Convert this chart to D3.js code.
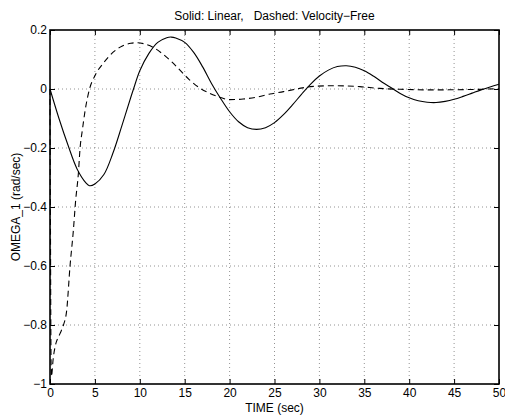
<!DOCTYPE html>
<html>
<head>
<meta charset="utf-8">
<script src="https://cdn.jsdelivr.net/npm/d3@7"></script>
<style>
  body { margin: 0; background: #fff; }
  text { font-family: "Liberation Sans", Arial, sans-serif; font-size: 12px; fill: #000; }
</style>
</head>
<body>
<div id="chart"></div>
<script>
// values
const solidTime = [0, 1, 2, 3, 4, 4.4, 5, 6, 7, 8, 9, 9.3, 10, 11, 12, 13, 13.5, 14, 15, 16, 17, 18, 19, 20,
    21, 22, 23, 24, 25, 26, 27, 28, 29, 30, 31, 32, 33, 34, 35, 36, 37, 38, 39, 40,
    41, 42, 43, 44, 45, 46, 47, 48, 49, 50];
const solidOmega = [0, -0.1, -0.19, -0.27, -0.318, -0.328, -0.322, -0.29, -0.218, -0.125, -0.028, 0, 0.062, 0.12, 0.158, 0.174, 0.176, 0.173, 0.158, 0.124, 0.075, 0.018, -0.032, -0.077,
    -0.111, -0.131, -0.137, -0.131, -0.114, -0.087, -0.054, -0.018, 0.016, 0.044, 0.064, 0.076, 0.079, 0.074, 0.062, 0.044, 0.023, 0.004, -0.015, -0.03,
    -0.04, -0.045, -0.046, -0.042, -0.035, -0.025, -0.014, -0.003, 0.007, 0.016];

const dashedTime = [0, 0.05, 0.1, 0.15, 0.37, 0.56, 1.1, 1.5, 1.86, 2.23, 2.6, 2.85, 3.15, 3.35, 3.6, 3.9, 4.4, 5, 6, 7, 8, 9, 9.7,
    10.5, 11.5, 12.5, 13.5, 14.5, 15.5, 16.7, 17.8, 18.9, 20, 21.5, 23, 24.5, 26, 27.8, 29, 31.5, 34.5, 36.7, 39, 42.7, 46.4, 50];
const dashedOmega = [0, -0.45, -0.85, -0.975, -0.91, -0.875, -0.83, -0.8, -0.75, -0.6, -0.48, -0.38, -0.29, -0.2, -0.14, -0.075, 0, 0.045, 0.09, 0.124, 0.145, 0.155, 0.157,
    0.153, 0.141, 0.12, 0.094, 0.063, 0.032, 0.003, -0.015, -0.028, -0.036, -0.034, -0.028, -0.017, -0.009, 0.002, 0.008, 0.011, 0.008, 0.002, -0.001, -0.003, -0.002, 0.001];

const xTicks = [0, 5, 10, 15, 20, 25, 30, 35, 40, 45, 50];
const yTicks = [-1, -0.8, -0.6, -0.4, -0.2, 0, 0.2];

const width = 505;
const height = 416;
const margin = { top: 30, right: 6, bottom: 32, left: 50 };
const innerW = width - margin.left - margin.right;
const innerH = height - margin.top - margin.bottom;

const svg = d3.select('#chart')
    .append('svg')
    .attr('width', width)
    .attr('height', height);

const x = d3.scaleLinear().domain([0, 50]).range([margin.left, margin.left + innerW]);
const y = d3.scaleLinear().domain([-1, 0.2]).range([margin.top + innerH, margin.top]);

// dotted grid
svg.append('g')
    .selectAll('line')
    .data(xTicks.slice(1, -1))
    .enter().append('line')
    .attr('x1', d => x(d)).attr('x2', d => x(d))
    .attr('y1', y(-1)).attr('y2', y(0.2))
    .attr('stroke', '#777').attr('stroke-width', 0.8)
    .attr('stroke-dasharray', '1,3');

svg.append('g')
    .selectAll('line')
    .data(yTicks.slice(1, -1))
    .enter().append('line')
    .attr('x1', x(0)).attr('x2', x(50))
    .attr('y1', d => y(d)).attr('y2', d => y(d))
    .attr('stroke', '#777').attr('stroke-width', 0.8)
    .attr('stroke-dasharray', '1,3');

// axes, ticks pointing inward like matlab
const fmtY = d => (d < 0 ? '\u2212' : '') + d3.format('')(Math.abs(d));

svg.append('g')
    .attr('transform', `translate(0,${y(-1)})`)
    .call(d3.axisBottom(x).tickValues(xTicks).tickSize(-5).tickPadding(4).tickFormat(d3.format('')))
    .call(g => g.select('.domain').remove());

svg.append('g')
    .attr('transform', `translate(0,${y(0.2)})`)
    .call(d3.axisTop(x).tickValues(xTicks).tickSize(-5).tickFormat(''))
    .call(g => g.select('.domain').remove());

svg.append('g')
    .attr('transform', `translate(${x(0)},0)`)
    .call(d3.axisLeft(y).tickValues(yTicks).tickSize(-5).tickPadding(3).tickFormat(fmtY))
    .call(g => g.select('.domain').remove());

svg.append('g')
    .attr('transform', `translate(${x(50)},0)`)
    .call(d3.axisRight(y).tickValues(yTicks).tickSize(-5).tickFormat(''))
    .call(g => g.select('.domain').remove());

svg.selectAll('.tick line').attr('stroke', '#000');
svg.selectAll('.tick text').style('font-size', '12px');

// frame
svg.append('rect')
    .attr('x', x(0)).attr('y', y(0.2))
    .attr('width', x(50) - x(0)).attr('height', y(-1) - y(0.2))
    .attr('fill', 'none').attr('stroke', '#000').attr('stroke-width', 1.6);

const smooth = d3.line()
    .x(d => x(d[0]))
    .y(d => y(d[1]))
    .curve(d3.curveCatmullRom.alpha(0.5));

const mono = d3.line()
    .x(d => x(d[0]))
    .y(d => y(d[1]))
    .curve(d3.curveMonotoneX);

svg.append('path')
    .datum(d3.zip(solidTime, solidOmega))
    .attr('d', smooth)
    .attr('fill', 'none').attr('stroke', '#000').attr('stroke-width', 1.1);

svg.append('path')
    .datum(d3.zip(dashedTime, dashedOmega))
    .attr('d', mono)
    .attr('fill', 'none').attr('stroke', '#000').attr('stroke-width', 1.1)
    .attr('stroke-dasharray', '6,4');

// labels
svg.append('text')
    .attr('x', (x(0) + x(50)) / 2).attr('y', 20)
    .attr('text-anchor', 'middle')
    .attr('xml:space', 'preserve')
    .text('Solid: Linear,   Dashed: Velocity\u2212Free');

svg.append('text')
    .attr('x', (x(0) + x(50)) / 2).attr('y', 412)
    .attr('text-anchor', 'middle')
    .text('TIME (sec)');

svg.append('text')
    .attr('transform', `translate(20,${(y(-1) + y(0.2)) / 2}) rotate(-90)`)
    .attr('text-anchor', 'middle')
    .text('OMEGA_1 (rad/sec)');
</script>
</body>
</html>
